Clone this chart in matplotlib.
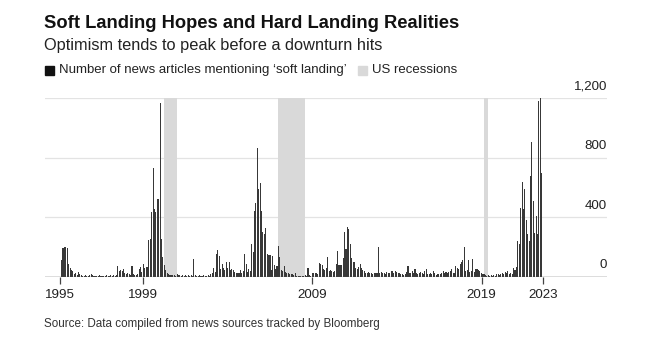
import numpy as np
import matplotlib.pyplot as plt
from matplotlib.patches import Rectangle

plt.rcParams['font.family'] = ['Liberation Sans', 'DejaVu Sans']

# Artículos mensuales que mencionan "soft landing" (ene 1995 - jun 2023)
y1995 = [112, 195, 198, 200, 196, 88, 62, 48, 38, 22, 30, 15]
y1996 = [35, 18, 12, 10, 8, 12, 10, 8, 15, 22, 12, 8]
y1997 = [8, 10, 6, 12, 8, 5, 10, 8, 12, 6, 10, 14]
y1998 = [10, 12, 8, 14, 74, 40, 45, 42, 56, 30, 22, 25]
y1999 = [20, 15, 76, 18, 12, 15, 20, 55, 67, 35, 90, 60]
y2000 = [67, 70, 250, 255, 437, 733, 458, 437, 526, 526, 1165, 257]
y2001 = [134, 78, 45, 30, 20, 15, 12, 15, 12, 10, 18, 12]
y2002 = [12, 10, 15, 8, 12, 10, 14, 8, 12, 10, 123, 15]
y2003 = [10, 8, 12, 10, 8, 12, 10, 9, 12, 10, 22, 30]
y2004 = [60, 35, 152, 180, 141, 52, 85, 60, 50, 100, 60, 100]
y2005 = [45, 55, 50, 35, 30, 25, 30, 45, 30, 40, 155, 85]
y2006 = [35, 55, 40, 220, 168, 441, 497, 867, 593, 627, 443, 302]
y2007 = [287, 330, 152, 150, 148, 45, 139, 78, 56, 75, 208, 134]
y2008 = [45, 40, 72, 35, 25, 30, 20, 18, 20, 12, 30, 10]
y2009 = [8, 5, 10, 6, 8, 12, 8, 63, 15, 5, 30, 25]
y2010 = [30, 25, 20, 92, 88, 80, 55, 50, 60, 137, 40, 45]
y2011 = [40, 35, 40, 85, 175, 80, 78, 80, 126, 305, 186, 332]
y2012 = [325, 222, 130, 100, 100, 60, 55, 70, 85, 60, 45, 40]
y2013 = [30, 25, 35, 25, 30, 20, 25, 30, 28, 200, 25, 35]
y2014 = [25, 30, 22, 35, 28, 25, 40, 38, 30, 40, 35, 30]
y2015 = [25, 18, 20, 15, 22, 35, 72, 30, 25, 40, 30, 56]
y2016 = [25, 20, 28, 35, 25, 18, 38, 56, 20, 18, 25, 22]
y2017 = [38, 25, 15, 20, 22, 18, 25, 38, 30, 35, 28, 35]
y2018 = [40, 56, 30, 30, 72, 60, 56, 85, 100, 112, 202, 40]
y2019 = [45, 116, 35, 40, 123, 35, 56, 52, 50, 38, 25, 18]
y2020 = [20, 15, 8, 12, 10, 15, 8, 12, 10, 18, 20, 15]
y2021 = [20, 30, 22, 35, 25, 40, 20, 25, 18, 60, 50, 70]
y2022 = [240, 220, 464, 638, 459, 589, 381, 290, 240, 679, 907, 509]
y2023 = [298, 410, 290, 1181, 1200, 699]

articles = (y1995 + y1996 + y1997 + y1998 + y1999 + y2000 + y2001 + y2002
            + y2003 + y2004 + y2005 + y2006 + y2007 + y2008 + y2009 + y2010
            + y2011 + y2012 + y2013 + y2014 + y2015 + y2016 + y2017 + y2018
            + y2019 + y2020 + y2021 + y2022 + y2023)

# Recesiones de EE.UU. (inicio, fin) en años decimales
recession_start = [2001.17, 2007.92, 2020.08]
recession_end = [2001.92, 2009.50, 2020.33]

tick_pos = [1995.0, 1999.9, 2009.93, 2019.95, 2023.6]
tick_labels = ['1995', '1999', '2009', '2019', '2023']
y_ticks = [0, 400, 800, 1200]

months = 1995 + (np.arange(len(articles)) + 0.5) / 12

fig = plt.figure(figsize=(6.61, 3.43), dpi=100)
ax = fig.add_axes([45 / 661, 66 / 343, 562 / 661, 179 / 343])

for a, b in zip(recession_start, recession_end):
    ax.axvspan(a, b, color='#d9d9d9', lw=0, zorder=1)

for v in y_ticks[1:]:
    ax.axhline(v, color='#e3e3e3', lw=0.9, zorder=0)
ax.axhline(0, color='#555555', lw=1.0, zorder=3)

ax.bar(months + 0.05, articles, width=0.75 / 12, color='#383838', lw=0, zorder=2, clip_on=False)

ax.set_xlim(1994.11, 2027.37)
ax.set_ylim(0, 1200)
for s in ax.spines.values():
    s.set_visible(False)
ax.set_yticks([])
ax.set_xticks(tick_pos)
ax.set_xticklabels(tick_labels, fontsize=9.6, color='#222222')
ax.tick_params(axis='x', length=5, width=0.9, color='#444444', pad=4)

for v in y_ticks:
    ax.annotate(f'{v:,}', xy=(1, v), xycoords=('axes fraction', 'data'),
                xytext=(0, 4), textcoords='offset points',
                ha='right', va='bottom', fontsize=9.6, color='#222222')

# Títulos
fig.text(44 / 661, 1 - 15 / 343, 'Soft Landing Hopes and Hard Landing Realities',
         fontsize=13.2, fontweight='bold', va='top', color='#111111')
fig.text(44 / 661, 1 - 38 / 343, 'Optimism tends to peak before a downturn hits',
         fontsize=11.8, va='top', color='#222222')

# Leyenda
ly = 1 - 70 / 343
fig.patches.append(Rectangle((45 / 661, ly - 4.5 / 343), 9 / 661, 9 / 343,
                             transform=fig.transFigure, color='#111111'))
t1 = fig.text(59 / 661, ly, 'Number of news articles mentioning \u2018soft landing\u2019',
              fontsize=9.5, va='center', color='#222222')
fig.canvas.draw()
bb = t1.get_window_extent()
x2 = bb.x1 + 11
fig.patches.append(Rectangle((x2 / 661, ly - 4.5 / 343), 9 / 661, 9 / 343,
                             transform=fig.transFigure, color='#d9d9d9'))
fig.text((x2 + 14) / 661, ly, 'US recessions', fontsize=9.5, va='center', color='#222222')

fig.text(44 / 661, 1 - 324 / 343, 'Source: Data compiled from news sources tracked by Bloomberg',
         fontsize=8.4, va='center', color='#333333')

fig.savefig('out.png', dpi=100)
